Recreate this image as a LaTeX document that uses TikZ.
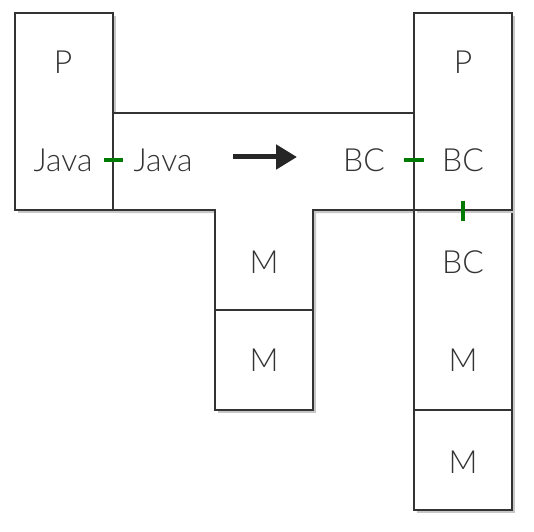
\documentclass[tikz,border=0pt]{standalone}
\usepackage{fontspec}
\setmainfont{Lato}[UprightFont=* Light]
\usetikzlibrary{shadows,arrows.meta}

\definecolor{ink}{HTML}{333333}
\definecolor{joint}{HTML}{007A00}

\tikzset{
  box/.style={draw=ink, line width=2bp, fill=white,
    drop shadow={shadow xshift=3bp, shadow yshift=-3bp, fill=black!22, opacity=1}},
  lbl/.style={text=ink, font=\fontsize{32}{34}\selectfont},
  joint/.style={draw=joint, line width=4bp},
}

\begin{document}
\begin{tikzpicture}[x=1bp, y=-1bp]
  \useasboundingbox (0,0) rectangle (534,532);

  % program written in Java
  \draw[box] (15,13) rectangle (113,210);
  % compiler Java -> BC, runs on M
  \draw[box] (113,113) -- (414,113) -- (414,210) -- (313,210) -- (313,310)
             -- (215,310) -- (215,210) -- (113,210) -- cycle;
  \draw[box] (215,310) rectangle (313,410);
  % interpreter BC on M, and machine
  \draw[box] (414,210) rectangle (512,410);
  \draw[box] (414,410) rectangle (512,510);
  % program in BC
  \draw[box] (414,13) rectangle (512,210);

  \node[lbl] (p1)    at (63,62)   {P};
  \node[lbl] (java1) at (63,160)  {Java};
  \node[lbl] (java2) at (163,160) {Java};
  \node[lbl] (bc1)   at (364,160) {BC};
  \node[lbl] (m1)    at (264,262) {M};
  \node[lbl] (m2)    at (264,360) {M};
  \node[lbl] (p2)    at (463,62)  {P};
  \node[lbl] (bc2)   at (463,160) {BC};
  \node[lbl] (bc3)   at (463,262) {BC};
  \node[lbl] (m3)    at (463,360) {M};
  \node[lbl] (m4)    at (463,462) {M};

  \coordinate (from) at (233,157);
  \coordinate (to)   at (297,157);
  \draw[line width=5bp, black!85, -{Triangle[length=21bp, width=24bp]}] (from) -- (to);

  % joints between the pieces
  \draw[joint] (104,160) -- (123,160);
  \draw[joint] (404,160) -- (424,160);
  \draw[joint] (463,201) -- (463,221);
\end{tikzpicture}
\end{document}
